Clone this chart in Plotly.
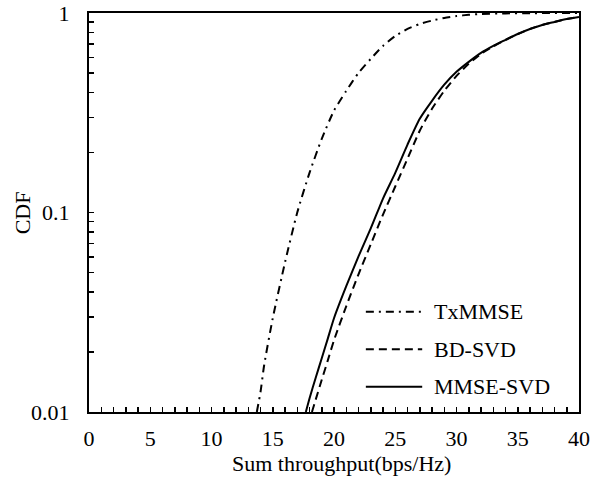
import plotly.graph_objects as go

# ---- data ----
tx_x = [13.7, 14.0, 14.3, 15, 16, 17, 18, 19, 20, 21, 22, 23, 24, 25, 26, 27, 28, 29, 30, 31, 32, 34, 36, 40]
tx_p = [0.01, 0.0126, 0.0172, 0.0295, 0.0562, 0.1, 0.158, 0.234, 0.324, 0.407, 0.501, 0.589, 0.684, 0.767,
        0.832, 0.881, 0.916, 0.944, 0.966, 0.979, 0.989, 0.995, 0.998, 1.0]

bd_x = [18.2, 18.5, 19, 19.5, 20, 21, 22, 23, 24, 25, 26, 27, 28, 29, 30, 31, 32, 33, 34, 35, 36, 37, 38, 39, 40]
bd_p = [0.01, 0.0115, 0.0145, 0.0182, 0.0229, 0.0339, 0.049, 0.0692, 0.0977, 0.135, 0.186, 0.257, 0.331, 0.407,
        0.484, 0.556, 0.624, 0.68, 0.733, 0.785, 0.832, 0.871, 0.902, 0.933, 0.955]

mm_x = [17.7, 18, 18.5, 19, 19.5, 20, 21, 22, 23, 24, 25, 26, 27, 28, 29, 30, 31, 32, 33, 34, 35, 36, 37, 38, 39, 40]
mm_p = [0.01, 0.0117, 0.0148, 0.0186, 0.0234, 0.0295, 0.0427, 0.0603, 0.0832, 0.1175, 0.158, 0.219, 0.295, 0.363,
        0.437, 0.507, 0.569, 0.631, 0.684, 0.733, 0.785, 0.832, 0.871, 0.902, 0.933, 0.955]

series_names = ["TxMMSE", "BD-SVD", "MMSE-SVD"]
x_tickvals = [0, 5, 10, 15, 20, 25, 30, 35, 40]
y_tickvals = [0.01, 0.1, 1]
y_ticktext = ["0.01", "0.1", "1"]
x_title = "Sum throughput(bps/Hz)"
y_title = "CDF"

FONT = "Liberation Serif, Times New Roman, serif"
dashes = ["8px,5px,2px,5px", "8px,5px", "solid"]
series = [(tx_x, tx_p), (bd_x, bd_p), (mm_x, mm_p)]

fig = go.Figure()
for (xs, ps), name, d in zip(series, series_names, dashes):
    fig.add_trace(go.Scatter(x=xs, y=ps, mode="lines", name=name, showlegend=False,
                             line=dict(color="black", width=2, dash=d, shape="spline", smoothing=0.6)))

# manual legend (longer line samples, as in reference)
leg_y = [0.251, 0.157, 0.063]
for name, d, yy in zip(series_names, dashes, leg_y):
    fig.add_shape(type="line", xref="paper", yref="paper", x0=0.565, x1=0.68, y0=yy, y1=yy,
                  line=dict(color="black", width=2, dash=d))
    fig.add_annotation(xref="paper", yref="paper", x=0.70, y=yy, text=name, showarrow=False,
                       xanchor="left", yanchor="middle", font=dict(family=FONT, size=22, color="black"))

fig.add_annotation(xref="paper", yref="paper", x=-0.135, y=0.5, text=y_title, textangle=-90,
                   showarrow=False, xanchor="center", yanchor="middle",
                   font=dict(family=FONT, size=22, color="black"))
fig.add_annotation(xref="paper", yref="paper", x=0.516, y=-0.13, text=x_title,
                   showarrow=False, xanchor="center", yanchor="middle",
                   font=dict(family=FONT, size=22, color="black"))

fig.update_layout(
    width=603, height=479,
    margin=dict(l=89, r=24, t=13, b=67),
    paper_bgcolor="white", plot_bgcolor="white",
    font=dict(family=FONT, size=22, color="black"),
    showlegend=False,
)
fig.update_xaxes(range=[0, 40], tickvals=x_tickvals, ticks="inside", ticklen=5, tickwidth=1.5,
                 tickcolor="black", showline=True, linecolor="black", linewidth=2, mirror=True,
                 showgrid=False, zeroline=False, ticklabelstandoff=6, automargin=False,
                 ticklabeloverflow="allow",
                 minor=dict(dtick=1, ticks="inside", ticklen=5, tickwidth=1.5, tickcolor="black", showgrid=False))
fig.update_yaxes(type="log", range=[-2, 0], tickvals=y_tickvals, ticktext=y_ticktext, ticks="inside",
                 ticklen=5, tickwidth=1.5, tickcolor="black", showline=True, linecolor="black", linewidth=2,
                 mirror=True, showgrid=False, zeroline=False, ticklabelstandoff=13, automargin=False,
                 ticklabeloverflow="allow",
                 minor=dict(dtick="D1", ticks="inside", ticklen=5, tickwidth=1.5, tickcolor="black", showgrid=False))

# remove the default 8px page margin so the 603x479 figure fills the window exactly
fig.write_html("out.html", config={"displayModeBar": False, "staticPlot": True},
               post_script="document.body.style.margin='0';")
